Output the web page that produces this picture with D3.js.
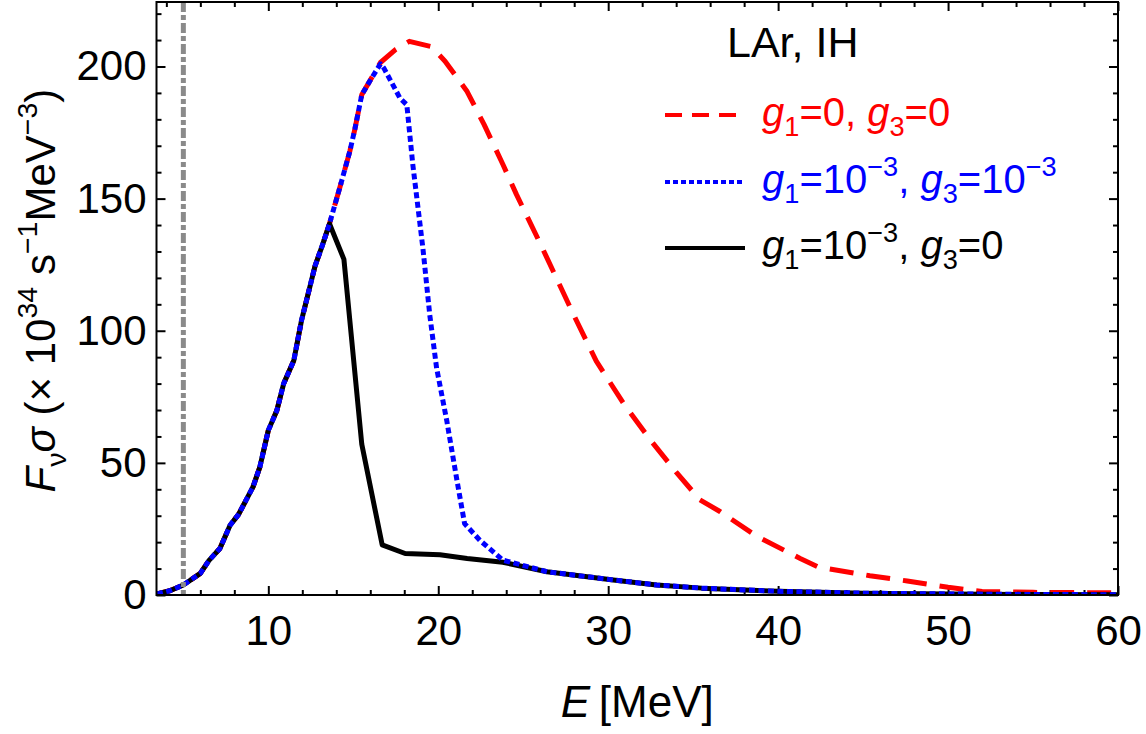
<!DOCTYPE html>
<html>
<head>
<meta charset="utf-8">
<script src="https://cdn.jsdelivr.net/npm/d3@7"></script>
<style>
  body { margin: 0; background: #fff; }
  svg { font-family: "Liberation Sans", Arial, sans-serif; }
</style>
</head>
<body>
<script>
// energies (MeV) and F_nu*sigma values
var redE  = [3.45, 4.2, 5.0, 6.0, 6.5, 7.15, 7.75, 8.25, 9.1, 9.5, 10.0, 10.5, 10.9, 11.5, 11.95, 12.75, 13.2, 13.6,
             14.2, 14.8, 15.1, 15.5, 15.9, 16.6, 17.5, 18.3, 19.6, 20.4, 21.7, 22.7, 23.8, 24.6, 26.0, 28.0, 29.3,
             30.9, 32.5, 34.0, 35.4, 36.6, 38.7, 41.3, 42.4, 45.4, 47.6, 50.0, 52.0, 55.0, 60.0];
var redV  = [0.4, 1.6, 3.8, 8.2, 13.0, 17.6, 26.4, 30.5, 40.9, 48.4, 62.3, 69.8, 79.9, 88.7, 103.8, 124.5, 132.7, 140.5,
             154, 168, 176.5, 189.3, 193.7, 201.5, 206.5, 209.5, 207.5, 202, 190.5, 178, 163, 151.6, 133, 105.6, 88.5,
             72.5, 58.5, 46.5, 36, 31.5, 22.4, 13.8, 10.5, 7.3, 5.3, 2.9, 1.3, 1.0, 0.8];

var blueE = [3.45, 4.2, 5.0, 6.0, 6.5, 7.15, 7.75, 8.25, 9.1, 9.5, 10.0, 10.5, 10.9, 11.5, 11.95, 12.75, 13.2, 13.6,
             14.2, 14.8, 15.1, 15.5, 15.9, 16.6, 16.8, 17.75, 18.15, 18.5, 19.1, 19.5, 19.9, 20.5, 21.1, 21.55,
             22.45, 23.8, 26.4, 30.3, 32.85, 35.5, 40, 45, 50, 55, 60];
var blueV = [0.4, 1.6, 3.8, 8.2, 13.0, 17.6, 26.4, 30.5, 40.9, 48.4, 62.3, 69.8, 79.9, 88.7, 103.8, 124.5, 132.7, 140.5,
             154, 168, 176.5, 189.3, 193.7, 201, 199.4, 188, 185.5, 163, 131, 106, 86, 66, 43.4, 27,
             20.7, 13.2, 8.8, 5.7, 3.8, 2.6, 1.4, 0.7, 0.4, 0.2, 0.1];

var blackE = [3.45, 4.2, 5.0, 6.0, 6.5, 7.15, 7.75, 8.25, 9.1, 9.5, 10.0, 10.5, 10.9, 11.5, 11.95, 12.75, 13.2, 13.6,
              14.45, 15.5, 16.7, 18.05, 20.1, 21.7, 23.8, 26.4, 30.3, 32.85, 35.5, 40, 45, 50, 55, 60];
var blackV = [0.4, 1.6, 3.8, 8.2, 13.0, 17.6, 26.4, 30.5, 40.9, 48.4, 62.3, 69.8, 79.9, 88.7, 103.8, 124.5, 132.7, 140.5,
              127, 57, 19, 15.7, 15.2, 13.8, 12.4, 8.8, 5.7, 3.8, 2.6, 1.4, 0.7, 0.4, 0.2, 0.1];

var xTicks = [10, 20, 30, 40, 50, 60];
var yTicks = [0, 50, 100, 150, 200];
var cutE = 5;   // gray vertical line

var W = 1146, H = 734;
var margin = {left: 156.5, top: 2, right: 28, bottom: 139};
var width = W - margin.left - margin.right;
var height = H - margin.top - margin.bottom;

var x = d3.scaleLinear().domain([3.42, 60]).range([0, width]);
var y = d3.scaleLinear().domain([0, 224.4]).range([height, 0]);

var svg = d3.select("body").append("svg").attr("width", W).attr("height", H);
var g = svg.append("g").attr("transform", "translate(" + margin.left + "," + margin.top + ")");

// minor tick positions
var xMinor = d3.range(4, 60, 2).filter(function(d){ return d % 10 !== 0; });
var yMinor = d3.range(10, 225, 10).filter(function(d){ return d % 50 !== 0; });

function styleAxis(sel) {
  sel.select(".domain").remove();
  sel.selectAll(".tick line").attr("stroke", "#000").attr("stroke-width", 2);
  sel.selectAll("text").attr("font-size", 42).attr("fill", "#000")
    .attr("font-family", "Liberation Sans, Arial, sans-serif");
}

// bottom
g.append("g").attr("transform", "translate(0," + height + ")")
  .call(d3.axisBottom(x).tickValues(xTicks).tickSize(-9).tickPadding(20).tickFormat(d3.format("d")))
  .call(styleAxis);
g.append("g").attr("transform", "translate(0," + height + ")")
  .call(d3.axisBottom(x).tickValues(xMinor).tickSize(-5).tickFormat(""))
  .call(styleAxis);
// top
g.append("g").call(d3.axisTop(x).tickValues(xTicks).tickSize(-9).tickFormat("")).call(styleAxis);
g.append("g").call(d3.axisTop(x).tickValues(xMinor).tickSize(-5).tickFormat("")).call(styleAxis);
// left
g.append("g")
  .call(d3.axisLeft(y).tickValues(yTicks).tickSize(-9).tickPadding(10).tickFormat(d3.format("d")))
  .call(styleAxis);
g.append("g").call(d3.axisLeft(y).tickValues(yMinor).tickSize(-5).tickFormat("")).call(styleAxis);
// right
g.append("g").attr("transform", "translate(" + width + ",0)")
  .call(d3.axisRight(y).tickValues(yTicks).tickSize(-9).tickFormat("")).call(styleAxis);
g.append("g").attr("transform", "translate(" + width + ",0)")
  .call(d3.axisRight(y).tickValues(yMinor).tickSize(-5).tickFormat("")).call(styleAxis);

// clip for curves
svg.append("defs").append("clipPath").attr("id", "clip")
  .append("rect").attr("width", width).attr("height", height);

var plot = g.append("g").attr("clip-path", "url(#clip)");

function lineFor(E, V) {
  return d3.line().x(function(d, i){ return x(E[i]); }).y(function(d){ return y(d); })(V);
}

plot.append("path").attr("d", lineFor(redE, redV))
  .attr("fill", "none").attr("stroke", "#ff0000").attr("stroke-width", 5)
  .attr("stroke-dasharray", "24,13").attr("stroke-linejoin", "round");
plot.append("path").attr("d", lineFor(blackE, blackV))
  .attr("fill", "none").attr("stroke", "#000").attr("stroke-width", 5)
  .attr("stroke-linejoin", "round");
plot.append("path").attr("d", lineFor(blueE, blueV))
  .attr("fill", "none").attr("stroke", "#0000ff").attr("stroke-width", 5)
  .attr("stroke-dasharray", "6,3.5").attr("stroke-linejoin", "round");

plot.append("line")
  .attr("x1", x(cutE)).attr("x2", x(cutE)).attr("y1", 0).attr("y2", height)
  .attr("stroke", "#8a8a8a").attr("stroke-width", 5).attr("stroke-dasharray", "10,3,5,3");

// frame
g.append("rect").attr("width", width).attr("height", height)
  .attr("fill", "none").attr("stroke", "#000").attr("stroke-width", 2);

// rich text helper: parts with i (italic), s ('sub' | 'sup')
function rich(sel, parts, size) {
  var shift = 0;
  parts.forEach(function(p) {
    var target = p.s === "sub" ? size * 0.25 : p.s === "sup" ? -size * 0.42 : 0;
    sel.append("tspan")
      .attr("dy", target - shift)
      .attr("font-size", p.s ? size * 0.68 : size)
      .attr("font-style", p.i ? "italic" : "normal")
      .text(p.t);
    shift = target;
  });
}

// axis titles
var xt = svg.append("text").attr("x", margin.left + width / 2).attr("y", 717)
  .attr("text-anchor", "middle").attr("fill", "#000");
rich(xt, [{t: "E", i: true}, {t: "\u2009[MeV]"}], 44);

var yt = svg.append("text").attr("transform", "translate(55," + (margin.top + height / 2 - 8) + ") rotate(-90)")
  .attr("text-anchor", "middle").attr("fill", "#000");
rich(yt, [{t: "F", i: true}, {t: "\u03bd", s: "sub"}, {t: "\u03c3", i: true}, {t: " (\u00d7 10"},
          {t: "34", s: "sup"}, {t: " s"}, {t: "\u22121", s: "sup"}, {t: "MeV"}, {t: "\u22123", s: "sup"}, {t: ")"}], 42);

// legend
svg.append("text").attr("x", 727).attr("y", 57).attr("font-size", 43).attr("fill", "#000").text("LAr, IH");

var legendRows = [
  {color: "#ff0000", dash: "17,10", y: 115,
   parts: [{t: "g", i: true}, {t: "1", s: "sub"}, {t: "=0, "}, {t: "g", i: true}, {t: "3", s: "sub"}, {t: "=0"}]},
  {color: "#0000ff", dash: "5,3", y: 182,
   parts: [{t: "g", i: true}, {t: "1", s: "sub"}, {t: "=10"}, {t: "\u22123", s: "sup"}, {t: ", "},
           {t: "g", i: true}, {t: "3", s: "sub"}, {t: "=10"}, {t: "\u22123", s: "sup"}]},
  {color: "#000000", dash: null, y: 248,
   parts: [{t: "g", i: true}, {t: "1", s: "sub"}, {t: "=10"}, {t: "\u22123", s: "sup"}, {t: ", "},
           {t: "g", i: true}, {t: "3", s: "sub"}, {t: "=0"}]}
];

legendRows.forEach(function(r) {
  svg.append("line").attr("x1", 665).attr("x2", 745).attr("y1", r.y).attr("y2", r.y)
    .attr("stroke", r.color).attr("stroke-width", 4).attr("stroke-dasharray", r.dash);
  var t = svg.append("text").attr("x", 762).attr("y", r.y + 11).attr("fill", r.color);
  rich(t, r.parts, 40);
});
</script>
</body>
</html>
